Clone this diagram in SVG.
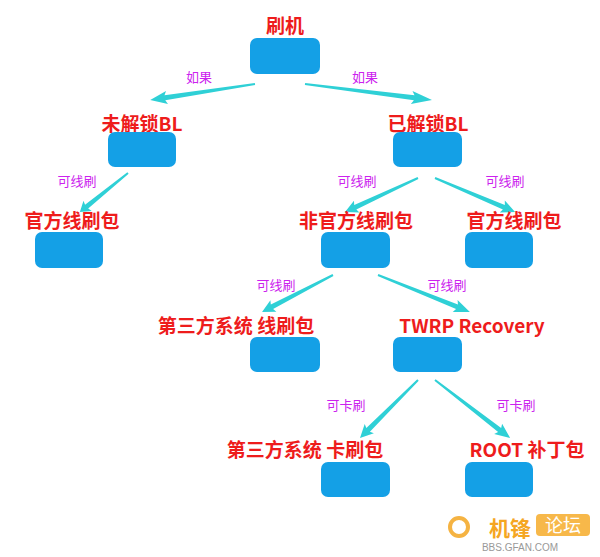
<svg xmlns="http://www.w3.org/2000/svg" xmlns:xlink="http://www.w3.org/1999/xlink" width="600" height="557" viewBox="0 0 600 557">
<style>
.box{fill:#14a0e6}
.t{font-family:"Noto Sans CJK SC","Liberation Sans",sans-serif;font-weight:bold;font-size:19px;fill:#ee1c1c;text-anchor:middle}
.e{font-family:"Noto Sans CJK SC","Liberation Sans",sans-serif;font-size:13px;fill:#cc22ee;text-anchor:middle}
.a{fill:#2fd0d6}
</style>
<defs>
<polygon id="arr" points="0,-1 86,-2.5 84,-6.5 100,0 84,6.5 86,2.5 0,1"/>
</defs>
<rect width="600" height="557" fill="#fff"/>
<g id="connectors" class="a">
<use xlink:href="#arr" transform="translate(255,84) rotate(171.3) scale(1.06,1)"/>
<use xlink:href="#arr" transform="translate(305,84) rotate(7.2) scale(1.28,1)"/>
<use xlink:href="#arr" transform="translate(128,173) rotate(140.9) scale(0.62,1)"/>
<use xlink:href="#arr" transform="translate(418,178) rotate(155) scale(0.805,1)"/>
<use xlink:href="#arr" transform="translate(435,178) rotate(23) scale(0.87,1)"/>
<use xlink:href="#arr" transform="translate(333,275) rotate(152.5) scale(0.8,1)"/>
<use xlink:href="#arr" transform="translate(378,275) rotate(21.9) scale(0.99,1)"/>
<use xlink:href="#arr" transform="translate(418,380) rotate(135) scale(0.82,1)"/>
<use xlink:href="#arr" transform="translate(435,380) rotate(37.7) scale(0.95,1)"/>
<text class="e" x="199" y="82">如果</text>
<text class="e" x="365" y="82">如果</text>
<text class="e" x="77" y="186">可线刷</text>
<text class="e" x="357" y="186">可线刷</text>
<text class="e" x="505" y="186">可线刷</text>
<text class="e" x="276" y="290">可线刷</text>
<text class="e" x="447" y="290">可线刷</text>
<text class="e" x="346" y="410">可卡刷</text>
<text class="e" x="516" y="410">可卡刷</text>
</g>
<g id="n1"><text class="t" x="285" y="33">刷机</text><rect class="box" x="250" y="38" width="70" height="36" rx="7"/></g>
<g id="n2"><text class="t" x="142" y="131">未解锁BL</text><rect class="box" x="108" y="132" width="68" height="35" rx="7"/></g>
<g id="n3"><text class="t" x="428" y="131">已解锁BL</text><rect class="box" x="393" y="132" width="69" height="35" rx="7"/></g>
<g id="n4"><text class="t" x="72" y="228">官方线刷包</text><rect class="box" x="35" y="232" width="68" height="36" rx="7"/></g>
<g id="n5"><text class="t" x="356" y="228">非官方线刷包</text><rect class="box" x="321" y="232" width="69" height="36" rx="7"/></g>
<g id="n6"><text class="t" x="514" y="228">官方线刷包</text><rect class="box" x="465" y="232" width="68" height="36" rx="7"/></g>
<g id="n7"><text class="t" x="236" y="333">第三方系统 线刷包</text><rect class="box" x="250" y="337" width="70" height="35" rx="7"/></g>
<g id="n8"><text class="t" x="472" y="333">TWRP Recovery</text><rect class="box" x="393" y="337" width="69" height="35" rx="7"/></g>
<g id="n9"><text class="t" x="305" y="457">第三方系统 卡刷包</text><rect class="box" x="321" y="462" width="69" height="35" rx="7"/></g>
<g id="n10"><text class="t" x="527" y="457">ROOT 补丁包</text><rect class="box" x="465" y="462" width="68" height="35" rx="7"/></g>
<g id="watermark">
<circle cx="459" cy="527" r="9" fill="none" stroke="#f5b342" stroke-width="4"/>
<text x="510" y="536" font-family="Noto Sans CJK SC,sans-serif" font-weight="bold" font-size="21" fill="#f5a623" text-anchor="middle">机锋</text>
<rect x="536" y="514" width="54" height="22" rx="4" fill="#f7b84a"/>
<text x="563" y="532" font-family="Noto Sans CJK SC,sans-serif" font-size="18" fill="#fff" text-anchor="middle">论坛</text>
<text x="520" y="551" font-family="Liberation Sans,sans-serif" font-size="10" fill="#999" text-anchor="middle">BBS.GFAN.COM</text>
</g>
</svg>
